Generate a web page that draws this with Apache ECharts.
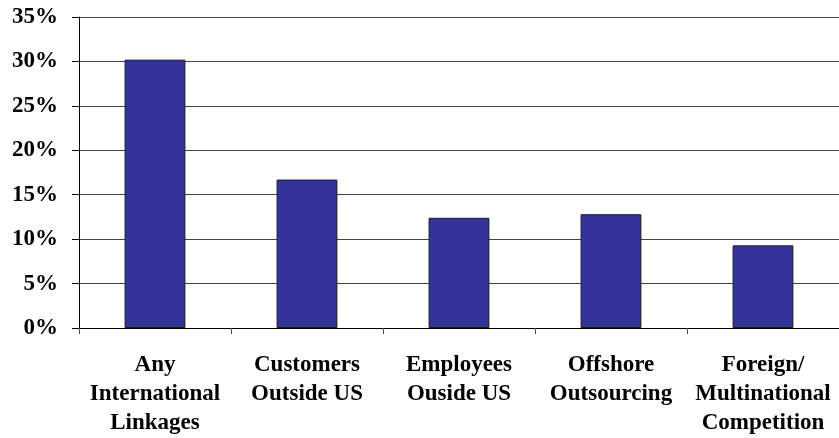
<!DOCTYPE html>
<html>
<head>
<meta charset="utf-8">
<script src="https://cdn.jsdelivr.net/npm/echarts@6/dist/echarts.min.js"></script>
<style>
  html, body { margin: 0; padding: 0; background: #fff; }
  #chart { width: 839px; height: 438px; }
</style>
</head>
<body>
<div id="chart"></div>
<script>
// Share of firms with each type of international linkage (%)
const categories = [
  'Any\nInternational\nLinkages',
  'Customers\nOutside US',
  'Employees\nOuside US',
  'Offshore\nOutsourcing',
  'Foreign/\nMultinational\nCompetition'
];
const shares = [30.2, 16.7, 12.4, 12.8, 9.3];
const yTicks = [0, 5, 10, 15, 20, 25, 30, 35];

const labelFont = {
  fontFamily: '"Liberation Serif", "Times New Roman", serif',
  fontWeight: 'bold',
  fontSize: 23,
  color: '#000'
};

const chart = echarts.init(document.getElementById('chart'), null, { renderer: 'canvas' });
chart.setOption({
  animation: false,
  backgroundColor: '#fff',
  grid: { left: 79, top: 17, width: 765, height: 312, containLabel: false },
  xAxis: {
    type: 'category',
    data: categories,
    boundaryGap: true,
    axisLine: { lineStyle: { color: '#000', width: 1 } },
    axisTick: { show: true, length: 6, lineStyle: { color: '#555' } },
    axisLabel: Object.assign({ interval: 0, margin: 23, lineHeight: 29 }, labelFont),
    splitLine: { show: false }
  },
  yAxis: {
    type: 'value',
    min: yTicks[0],
    max: yTicks[yTicks.length - 1],
    interval: yTicks[1] - yTicks[0],
    axisLine: { show: true, lineStyle: { color: '#000', width: 1 } },
    axisTick: { show: true, inside: false, length: 7, lineStyle: { color: '#000' } },
    axisLabel: Object.assign({ margin: 21, formatter: v => v + '%' }, labelFont),
    splitLine: { show: true, lineStyle: { color: '#444', width: 1 } }
  },
  series: [{
    type: 'bar',
    data: shares,
    barWidth: '40%',
    itemStyle: { color: '#333399', borderColor: '#1a1a1a', borderWidth: 1 }
  }]
});
</script>
</body>
</html>
